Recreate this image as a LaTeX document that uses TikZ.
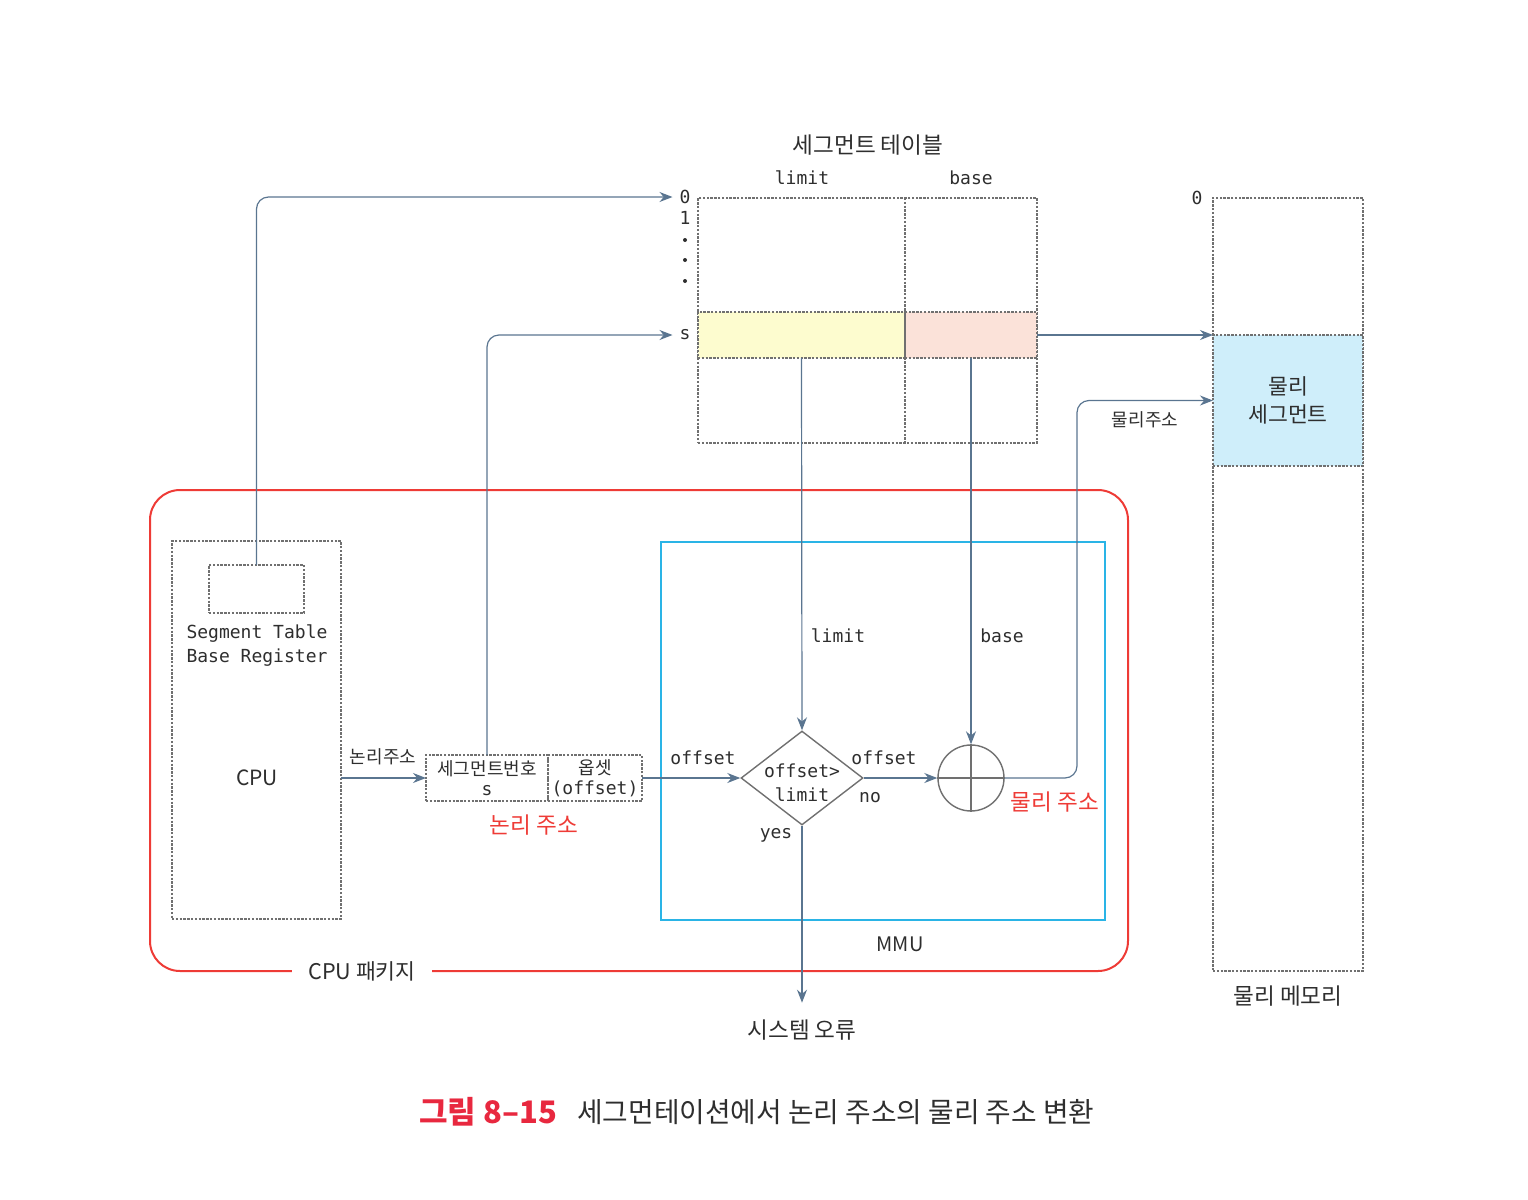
\documentclass[tikz,border=0pt]{standalone}
\usepackage{fontspec}
\setmainfont{Noto Sans CJK KR}
\setmonofont{DejaVu Sans Mono}
\usetikzlibrary{shapes.geometric,arrows.meta}
\definecolor{flowblue}{HTML}{5A7590}
\definecolor{boxgray}{HTML}{707070}
\definecolor{textgray}{HTML}{2E2E2E}
\definecolor{pkgred}{HTML}{EE3B36}
\definecolor{mmucyan}{HTML}{2AB4E6}
\definecolor{limyellow}{HTML}{FDFCCF}
\definecolor{basepink}{HTML}{FBE2D9}
\definecolor{segblue}{HTML}{CFEEFA}
\definecolor{capred}{HTML}{E8283F}
\tikzset{
  box/.style={draw=boxgray, dash pattern=on 1.2pt off 0.7pt, line width=0.6pt, inner sep=0pt, outer sep=0pt},
  flow/.style={draw=flowblue, line width=0.6pt, -{Stealth[length=6.5pt,width=5pt]}},
  mono/.style={font=\ttfamily\fontsize{9}{12}\selectfont, text=textgray, align=center},
  kor/.style={font=\fontsize{9}{11}\selectfont, text=textgray, align=center},
  big/.style={font=\fontsize{11.3}{14}\selectfont, text=textgray, align=center},
  redlbl/.style={font=\fontsize{11.3}{14}\selectfont, text=pkgred}
}
\begin{document}
\begin{tikzpicture}[x=0.5pt, y=-0.5pt]
  \useasboundingbox (0,0) rectangle (1528,1200);

  % segment table
  \node[box, minimum width=169.5pt, minimum height=122.5pt] (tbl) at (867.5,320.5) {};
  \node[box, fill=limyellow, minimum width=103.5pt, minimum height=23pt] (slim) at (801.5,335) {};
  \node[box, fill=basepink, minimum width=66pt, minimum height=23pt] (sbase) at (971,335) {};
  \draw[box] (905,198) -- (905,443);
  \node[big] (ttl) at (868,145) {세그먼트 테이블};
  \node[mono] (hlim) at (802,178) {limit};
  \node[mono] (hbase) at (971,178) {base};
  \node[mono] (r0) at (685,197) {0};
  \node[mono] (r1) at (685,218) {1};
  \foreach \y in {240,260,281}
    \fill[textgray] (685,\y) circle (1pt);
  \node[mono] (rs) at (685,335) {s};

  % physical memory
  \node[box, minimum width=75pt, minimum height=386.5pt] (mem) at (1288,584.5) {};
  \node[box, fill=segblue, minimum width=75pt, minimum height=65.5pt,
        font=\fontsize{10.8}{14}\selectfont, text=textgray, align=center] (pseg) at (1288,400.5) {물리\\세그먼트};
  \node[mono] (m0) at (1197,198) {0};
  \node[big] (memlbl) at (1288,996) {물리 메모리};

  % CPU package and MMU
  \draw[pkgred, line width=1pt, rounded corners=15pt] (150,490) rectangle (1128,971);
  \node[fill=white, inner xsep=8pt, font=\fontsize{10.8}{13}\selectfont, text=textgray] (pkg) at (362,971) {CPU 패키지};
  \draw[mmucyan, line width=1pt] (661,542) rectangle (1105,920);
  \node[font=\fontsize{10}{12}\selectfont, text=textgray] (mmu) at (900,944) {MMU};

  % CPU
  \node[box, minimum width=84.5pt, minimum height=189pt] (cpu) at (256.5,730) {};
  \node[box, minimum width=47.5pt, minimum height=24pt] (stbr) at (256.5,589) {};
  \node[mono] (stbrlbl) at (257,646) {Segment Table\\Base Register};
  \node[font=\fontsize{10.5}{13}\selectfont, text=textgray] (cpulbl) at (257,778) {CPU};

  % logical address
  \node[box, minimum width=61pt, minimum height=23pt, kor] (lseg) at (487,778) {세그먼트번호\\[-1pt]{\ttfamily s}};
  \node[box, minimum width=47pt, minimum height=23pt, kor] (loff) at (595,778) {옵셋\\[-1pt]{\ttfamily (offset)}};
  \node[redlbl] (laddr) at (534,825) {논리 주소};

  % check and adder
  \node[draw=boxgray, line width=0.7pt, diamond, minimum width=61pt, minimum height=47pt, inner sep=0pt] (chk) at (802,778) {};
  \node[mono] (chklbl) at (802,783) {offset>\\limit};
  \node[draw=boxgray, line width=0.7pt, circle, minimum size=33pt, inner sep=0pt] (add) at (971,778) {};
  \draw[boxgray, line width=0.6pt] (add.north) -- (add.south) (add.west) -- (add.east);
  \node[redlbl] (paddr) at (1055,802) {물리 주소};
  \node[big] (err) at (802,1030) {시스템 오류};

  % connectors
  \draw[flow, rounded corners=6pt] (stbr.north) |- (r0.west);
  \draw[flow, rounded corners=6pt] (lseg.north) |- (rs.west);
  \draw[flow] (slim.south) -- (chk.north);
  \draw[flow] (sbase.south) -- (add.north);
  \draw[flow] (sbase.east) -- (pseg.north west);
  \draw[flow, rounded corners=6pt] (add.east) -- (1077,778) |- (pseg.west);
  \draw[flow] (cpu.east |- lseg.west) -- (lseg.west);
  \draw[flow] (loff.east) -- (chk.west);
  \draw[flow] (chk.east) -- (add.west);
  \draw[flow, shorten >=5pt] (chk.south) -- (err.north);

  % connector labels
  \node[mono] (llim) at (838,636) {limit};
  \node[mono] (lbase) at (1002,636) {base};
  \node[kor] (lla) at (383,757) {논리주소};
  \node[kor] (lpa) at (1145,420) {물리주소};
  \node[mono] (loff1) at (703,758) {offset};
  \node[mono] (loff2) at (884,758) {offset};
  \node[mono] (lno) at (870,798) {no};
  \node[mono] (lyes) at (776,835) {yes};

  % caption
  \node[anchor=west, font=\fontsize{15.5}{18}\selectfont\bfseries, text=capred, inner sep=0pt] (cap1) at (419,1112) {그림 8–15};
  \node[anchor=west, font=\fontsize{13.9}{16}\selectfont, text=textgray, inner sep=0pt] (cap2) at (577,1112) {세그먼테이션에서 논리 주소의 물리 주소 변환};
\end{tikzpicture}
\end{document}
